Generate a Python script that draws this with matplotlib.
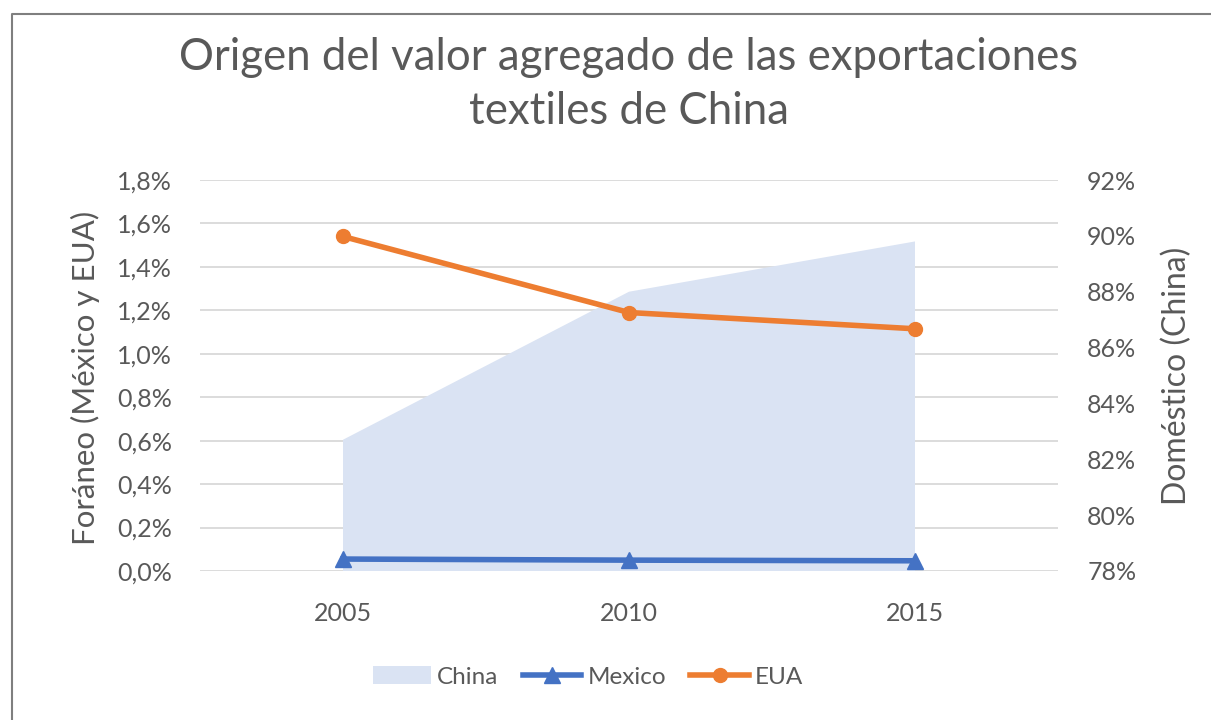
import matplotlib.pyplot as plt
from matplotlib.lines import Line2D
from matplotlib.patches import Patch
from matplotlib.ticker import FuncFormatter

years = ["2005", "2010", "2015"]
china = [82.7, 88.0, 89.8]      # % doméstico (eje derecho)
mexico = [0.055, 0.050, 0.047]  # % foráneo (eje izquierdo)
eua = [1.54, 1.19, 1.115]

txt = "#595959"
c_china = "#DAE3F3"
c_mex = "#4472C4"
c_eua = "#ED7D31"

plt.rcParams["font.family"] = ["Lato", "DejaVu Sans"]
plt.rcParams["text.color"] = txt

fig = plt.figure(figsize=[12.11, 7.2], dpi=100)
pos = [200 / 1211, 1 - 571 / 720, 858 / 1211, 391 / 720]
ax = fig.add_axes(pos)
ax2 = ax.twinx()
ax3 = ax.twinx()

x = list(range(len(years)))

# left axis: grid + ticks
ax.set_xlim(-0.5, 2.5)
ax.set_ylim(0, 1.8)
ax.set_yticks([i * 0.2 for i in range(10)])
ax.yaxis.set_major_formatter(FuncFormatter(lambda v, p: f"{v:.1f}%".replace(".", ",")))
ax.grid(axis="y", color="#D9D9D9", linewidth=1.3)
ax.set_xticks(x)
ax.set_xticklabels(years)
ax.set_ylabel("Foráneo (México y EUA)", fontsize=22.5, color=txt)
ax.yaxis.set_label_coords(-0.1166, 0.495)

# right axis: China area
ax2.fill_between(x, 0, china, color=c_china, linewidth=0)
ax2.set_ylim(78, 92)
ax2.set_yticks(range(78, 93, 2))
ax2.yaxis.set_major_formatter(FuncFormatter(lambda v, p: f"{v:.0f}%"))
ax2.set_ylabel("Doméstico (China)", fontsize=23, color=txt)
ax2.yaxis.set_label_coords(1.121, 0.5)

# lines on top, left scale
ax3.set_ylim(0, 1.8)
ax3.plot(x, mexico, color=c_mex, lw=4, marker="^", ms=11, clip_on=False)
ax3.plot(x, eua, color=c_eua, lw=4, marker="o", ms=10, clip_on=False)
ax3.set_yticks([])

for a in (ax, ax2, ax3):
    for s in a.spines.values():
        s.set_visible(False)
    a.tick_params(length=0, labelsize=18, colors=txt)
ax.tick_params(axis="y", pad=20)
ax.tick_params(axis="x", pad=22)
ax2.tick_params(axis="y", pad=21)

fig.text(0.519, 1 - 57 / 720, "Origen del valor agregado de las exportaciones",
         ha="center", va="center", fontsize=31.5, color=txt)
fig.text(0.519, 1 - 112 / 720, "textiles de China",
         ha="center", va="center", fontsize=31.5, color=txt)

handles = [
    Patch(facecolor=c_china, edgecolor="none"),
    Line2D([], [], color=c_mex, lw=4, marker="^", ms=11),
    Line2D([], [], color=c_eua, lw=4, marker="o", ms=10),
]
fig.legend(handles, ["China", "Mexico", "EUA"], loc="center",
           bbox_to_anchor=(588 / 1211, 1 - 677 / 720), ncol=3, frameon=False,
           fontsize=17.5, handlelength=2.4, handletextpad=0.25, columnspacing=1.0)

# chart border (top and left visible in the crop)
fig.add_artist(Line2D([12 / 1211, 12 / 1211, 1], [0, 1 - 14 / 720, 1 - 14 / 720],
                      transform=fig.transFigure, color="#7F7F7F", lw=1.5))

fig.savefig("out.png", dpi=100)
